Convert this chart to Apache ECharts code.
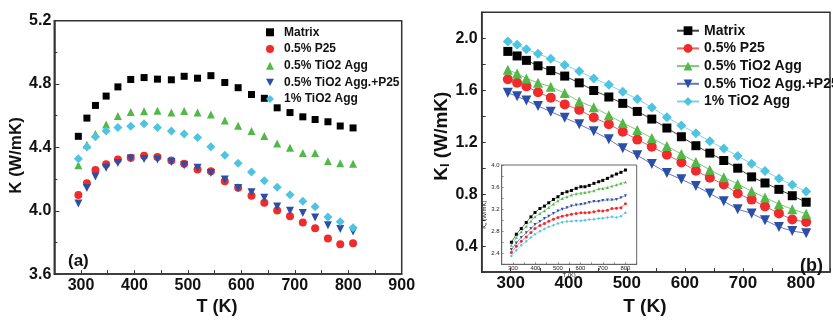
<!DOCTYPE html>
<html><head><meta charset="utf-8">
<script src="https://cdn.jsdelivr.net/npm/echarts@6/dist/echarts.min.js"></script>
<style>html,body{margin:0;padding:0;background:#fff}#c{width:833px;height:321px}</style>
</head><body><div id="c"></div>
<script>
// ---- data ----
const seriesNames = ['Matrix', '0.5% P25', '0.5% TiO2 Agg', '0.5% TiO2 Agg.+P25', '1% TiO2 Agg'];
const tMain = [295, 311, 327, 347, 369, 393, 418, 443, 469, 493, 518, 543, 569, 594, 619, 643, 667, 691, 715, 738, 762, 785, 809];
const tInset = [293, 315, 337, 359, 380, 398, 420, 440, 459, 480, 500, 519, 540, 560, 581, 602, 620, 639, 660, 681, 699, 720, 740, 760, 780, 800];

// panel (a): total K
const kMatrix = [4.47, 4.585, 4.665, 4.724, 4.782, 4.829, 4.841, 4.831, 4.827, 4.849, 4.837, 4.853, 4.810, 4.777, 4.734, 4.71, 4.65, 4.62, 4.593, 4.576, 4.562, 4.535, 4.523];
const kP25 = [4.10, 4.174, 4.258, 4.293, 4.324, 4.334, 4.347, 4.34, 4.318, 4.297, 4.26, 4.25, 4.187, 4.146, 4.094, 4.051, 4.002, 3.965, 3.926, 3.889, 3.824, 3.789, 3.795];
const kAgg = [4.287, 4.416, 4.484, 4.544, 4.599, 4.624, 4.628, 4.632, 4.62, 4.63, 4.62, 4.607, 4.570, 4.537, 4.503, 4.472, 4.425, 4.398, 4.365, 4.365, 4.312, 4.3, 4.297];
const kAggP25 = [4.045, 4.144, 4.217, 4.271, 4.302, 4.33, 4.326, 4.324, 4.308, 4.287, 4.271, 4.238, 4.197, 4.144, 4.117, 4.082, 4.027, 4.0, 3.986, 3.957, 3.908, 3.885, 3.869];
const k1Agg = [4.328, 4.402, 4.468, 4.503, 4.525, 4.533, 4.55, 4.525, 4.503, 4.484, 4.462, 4.404, 4.351, 4.3, 4.244, 4.189, 4.148, 4.101, 4.06, 4.025, 3.961, 3.930, 3.893];

// panel (b): lattice K_l
const klMatrix = [1.899, 1.864, 1.830, 1.788, 1.751, 1.709, 1.657, 1.598, 1.548, 1.499, 1.437, 1.378, 1.309, 1.242, 1.173, 1.116, 1.059, 1.0, 0.933, 0.886, 0.837, 0.788, 0.738];
const klP25 = [1.684, 1.657, 1.630, 1.585, 1.543, 1.491, 1.449, 1.390, 1.338, 1.281, 1.220, 1.165, 1.104, 1.044, 0.980, 0.926, 0.874, 0.805, 0.758, 0.706, 0.652, 0.605, 0.585];
const klAgg = [1.758, 1.728, 1.691, 1.657, 1.627, 1.578, 1.514, 1.469, 1.407, 1.348, 1.294, 1.232, 1.170, 1.109, 1.047, 0.988, 0.931, 0.879, 0.822, 0.775, 0.723, 0.684, 0.649];
const klAggP25 = [1.580, 1.553, 1.521, 1.479, 1.435, 1.388, 1.338, 1.284, 1.222, 1.153, 1.099, 1.032, 0.963, 0.914, 0.862, 0.805, 0.746, 0.684, 0.652, 0.600, 0.548, 0.516, 0.499];
const kl1Agg = [1.975, 1.951, 1.916, 1.881, 1.842, 1.795, 1.746, 1.691, 1.642, 1.588, 1.533, 1.467, 1.393, 1.328, 1.269, 1.207, 1.151, 1.094, 1.035, 0.978, 0.921, 0.872, 0.820];

// inset: K_e
const keMatrix = [2.60, 2.745, 2.848, 2.958, 3.06, 3.139, 3.212, 3.255, 3.315, 3.376, 3.424, 3.485, 3.515, 3.539, 3.576, 3.606, 3.606, 3.63, 3.667, 3.697, 3.721, 3.758, 3.8, 3.836, 3.867, 3.909];
const keP25 = [2.412, 2.527, 2.618, 2.697, 2.776, 2.848, 2.903, 2.939, 2.982, 3.018, 3.048, 3.073, 3.091, 3.109, 3.121, 3.133, 3.133, 3.139, 3.152, 3.17, 3.164, 3.182, 3.212, 3.218, 3.224, 3.297];
const keAgg = [2.545, 2.685, 2.788, 2.891, 2.982, 3.061, 3.121, 3.17, 3.23, 3.291, 3.352, 3.394, 3.424, 3.455, 3.479, 3.491, 3.503, 3.515, 3.533, 3.57, 3.576, 3.594, 3.618, 3.642, 3.667, 3.691];
const keAggP25 = [2.467, 2.588, 2.685, 2.770, 2.848, 2.921, 2.976, 3.03, 3.073, 3.121, 3.164, 3.2, 3.224, 3.255, 3.273, 3.285, 3.297, 3.321, 3.339, 3.339, 3.358, 3.364, 3.364, 3.376, 3.406, 3.442];
const ke1Agg = [2.352, 2.455, 2.545, 2.618, 2.685, 2.745, 2.8, 2.842, 2.879, 2.909, 2.939, 2.964, 2.976, 2.982, 2.988, 2.988, 3.0, 3.012, 3.018, 3.03, 3.036, 3.048, 3.061, 3.048, 3.073, 3.133];

// ---- styling ----
const FONT = 'Liberation Sans, Arial, sans-serif';
const colors = ['#000000', '#ef2b2b', '#52b848', '#2b4ea6', '#4ec4e0'];
const symbols = ['rect', 'circle', 'triangle', 'path://M0,0 L10,0 L5,9 Z', 'diamond'];
const sizesA = [7, 8, 8, 8, 9];
const sizesB = [9, 10, 10, 10, 10];
const sizesI = [3, 3, 3, 3, 3];
const panelA = [kMatrix, kP25, kAgg, kAggP25, k1Agg];
const panelB = [klMatrix, klP25, klAgg, klAggP25, kl1Agg];
const panelI = [keMatrix, keP25, keAgg, keAggP25, ke1Agg];

function zip(xs, ys) { return xs.map((x, i) => [x, ys[i]]); }

const series = [];
seriesNames.forEach((n, i) => {
  series.push({
    name: n, type: 'scatter', xAxisIndex: 0, yAxisIndex: 0,
    data: zip(tMain, panelA[i]), symbol: symbols[i], symbolSize: sizesA[i],
    itemStyle: { color: colors[i], opacity: 1 }, z: 3
  });
});
seriesNames.forEach((n, i) => {
  series.push({
    name: n + ' (b)', type: 'line', xAxisIndex: 1, yAxisIndex: 1,
    data: zip(tMain, panelB[i]), symbol: symbols[i], symbolSize: sizesB[i],
    itemStyle: { color: colors[i], opacity: 1 }, lineStyle: { color: colors[i], width: 1, opacity: 0.75 },
    showSymbol: true, animation: false, z: 3
  });
});
seriesNames.forEach((n, i) => {
  series.push({
    name: n + ' (inset)', type: 'line', xAxisIndex: 2, yAxisIndex: 2,
    data: zip(tInset, panelI[i]), symbol: symbols[i], symbolSize: sizesI[i],
    itemStyle: { color: colors[i], opacity: 1 }, lineStyle: { color: colors[i], width: 0.7, opacity: 0.8 },
    showSymbol: true, animation: false, z: 5
  });
});

const axisCol = '#333';
function xAxisCfg(grid, min, max, fs, opts) {
  return Object.assign({
    type: 'value', gridIndex: grid, min: min, max: max, interval: 50,
    axisLine: { show: true, lineStyle: { color: axisCol, width: 1.5 } },
    axisTick: { show: true, inside: true, length: 4, lineStyle: { color: axisCol, width: 1 } },
    splitLine: { show: false },
    axisLabel: {
      fontFamily: FONT, fontWeight: 'bold', fontSize: fs, color: '#111', margin: 3,
      formatter: v => (Math.round(v) % 100 === 0 ? String(Math.round(v)) : '')
    }
  }, opts || {});
}

const option = {
  animation: false,
  backgroundColor: '#fff',
  grid: [
    { left: 54.3, top: 20.7, width: 347.4, height: 260.3, show: true, borderColor: axisCol, borderWidth: 1.5, backgroundColor: 'transparent' },
    { left: 481.7, top: 12.3, width: 361, height: 270.4, show: true, borderColor: axisCol, borderWidth: 1.5, backgroundColor: 'transparent' },
    { left: 501.7, top: 165, width: 135, height: 99.3, show: true, borderColor: '#666', borderWidth: 1, backgroundColor: '#fff', z: 4 }
  ],
  xAxis: [
    xAxisCfg(0, 250, 900, 16, {
      name: 'T (K)', nameLocation: 'middle', nameGap: 19,
      nameTextStyle: { fontFamily: FONT, fontWeight: 'bold', fontSize: 18, color: '#111', padding: [0, 22, 0, 0] }
    }),
    xAxisCfg(1, 250, 850, 17, {
      name: 'T (K)', nameLocation: 'middle', nameGap: 20,
      nameTextStyle: { fontFamily: FONT, fontWeight: 'bold', fontSize: 19, color: '#111', padding: [0, 22, 0, 0] }
    }),
    {
      type: 'value', gridIndex: 2, min: 250, max: 850, interval: 50, z: 5,
      axisLine: { show: true, lineStyle: { color: '#666', width: 1 } },
      axisTick: { show: true, inside: true, length: 2, lineStyle: { color: '#666', width: 0.7 } },
      splitLine: { show: false },
      axisLabel: { fontFamily: FONT, fontSize: 6, color: '#222', margin: 1,
        formatter: v => (Math.round(v) % 100 === 0 ? String(Math.round(v)) : '') },
      name: 'T (K)', nameLocation: 'middle', nameGap: 8,
      nameTextStyle: { fontFamily: FONT, fontSize: 6, color: '#222' }
    }
  ],
  yAxis: [
    {
      type: 'value', gridIndex: 0, min: 3.6, max: 5.2, interval: 0.4,
      axisLine: { show: true, lineStyle: { color: axisCol, width: 1.5 } },
      axisTick: { show: true, inside: true, length: 5, lineStyle: { color: axisCol, width: 1 } },
      minorTick: { show: true, splitNumber: 2, length: 3, lineStyle: { color: axisCol, width: 1 } },
      splitLine: { show: false },
      axisLabel: { fontFamily: FONT, fontWeight: 'bold', fontSize: 16, color: '#111', margin: 3, formatter: v => v.toFixed(1) },
      name: 'K (W/mK)', nameLocation: 'middle', nameGap: 25,
      nameTextStyle: { fontFamily: FONT, fontWeight: 'bold', fontSize: 17, color: '#111', padding: [0, 16, 0, 0] }
    },
    {
      type: 'value', gridIndex: 1, min: 0.2, max: 2.2, interval: 0.2,
      axisLine: { show: true, lineStyle: { color: axisCol, width: 1.5 } },
      axisTick: { show: true, inside: true, length: 4, lineStyle: { color: axisCol, width: 1 } },
      splitLine: { show: false },
      axisLabel: { fontFamily: FONT, fontWeight: 'bold', fontSize: 16, color: '#111', margin: 4,
        formatter: v => (Math.round(v * 10) % 4 === 0 ? v.toFixed(1) : '') },
      name: 'K{sub|l} (W/mK)', nameLocation: 'middle', nameGap: 27,
      nameTextStyle: { fontFamily: FONT, fontWeight: 'bold', fontSize: 19, color: '#111', verticalAlign: 'bottom',
        padding: [0, 0, 0, 12],
        rich: {
          sub: { fontFamily: FONT, fontWeight: 'bold', fontSize: 13, color: '#111', verticalAlign: 'bottom', lineHeight: 11 }
        } }
    },
    {
      type: 'value', gridIndex: 2, min: 2.2, max: 4.0, interval: 0.2, z: 5,
      axisLine: { show: true, lineStyle: { color: '#666', width: 1 } },
      axisTick: { show: true, inside: true, length: 2, lineStyle: { color: '#666', width: 0.7 } },
      splitLine: { show: false },
      axisLabel: { fontFamily: FONT, fontSize: 6, color: '#222', margin: 2,
        formatter: v => (Math.round(v * 10) % 4 === 0 ? v.toFixed(1) : '') },
      name: 'K{sub|e} (W/mK)', nameLocation: 'middle', nameGap: 11,
      nameTextStyle: { fontFamily: FONT, fontSize: 6, color: '#222',
        rich: { sub: { fontFamily: FONT, fontSize: 4, color: '#222', verticalAlign: 'bottom', lineHeight: 4 } } }
    }
  ],
  legend: [
    {
      orient: 'vertical', left: 266, top: 26.3, padding: 0, itemWidth: 8, itemHeight: 8, itemGap: 4.7,
      data: seriesNames, selectedMode: false,
      textStyle: { fontFamily: FONT, fontWeight: 'bold', fontSize: 12, color: '#111', lineHeight: 12, padding: [0, 0, 0, 5] }
    },
    {
      orient: 'vertical', left: 676, top: 23.7, padding: 0, itemWidth: 22, itemHeight: 11, itemGap: 3.7,
      data: seriesNames.map(n => n + ' (b)'), selectedMode: false,
      formatter: n => n.replace(' (b)', ''),
      textStyle: { fontFamily: FONT, fontWeight: 'bold', fontSize: 14, color: '#111', lineHeight: 14 }
    }
  ],
  graphic: [
    { type: 'text', left: 68, top: 253, z: 10, style: { text: '(a)', font: 'bold 17px Liberation Sans, Arial, sans-serif', fill: '#111' } },
    { type: 'text', left: 800, top: 257, z: 10, style: { text: '(b)', font: 'bold 18px Liberation Sans, Arial, sans-serif', fill: '#111' } }
  ],
  series: series
};

const chart = echarts.init(document.getElementById('c'), null, { renderer: 'canvas' });
chart.setOption(option);
</script>
</body></html>
